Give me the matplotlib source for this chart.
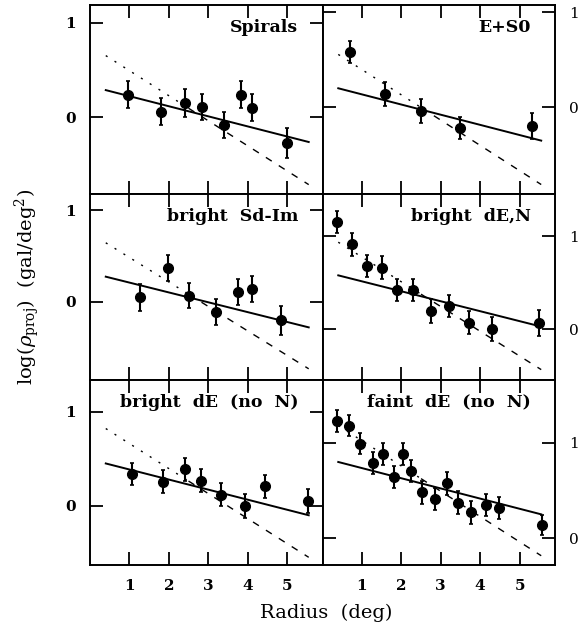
import numpy as np
import matplotlib
matplotlib.use("Agg")
import matplotlib.pyplot as plt

plt.rcParams['font.family'] = 'DejaVu Serif'
plt.rcParams['mathtext.fontset'] = 'dejavuserif'

# panel names, left column top->bottom then right column top->bottom
names = ['Spirals', 'bright  Sd-Im', 'bright  dE  (no  N)',
         'E+S0', 'bright  dE,N', 'faint  dE  (no  N)']

# radius (deg), log density, error
r_spir = [0.96, 1.80, 2.40, 2.84, 3.39, 3.82, 4.12, 4.99]
y_spir = [0.24, 0.06, 0.15, 0.11, -0.085, 0.24, 0.10, -0.27]
e_spir = [0.14, 0.145, 0.145, 0.14, 0.14, 0.145, 0.145, 0.16]

r_sdim = [1.28, 1.99, 2.51, 3.19, 3.76, 4.12, 4.85]
y_sdim = [0.05, 0.37, 0.07, -0.105, 0.11, 0.14, -0.20]
e_sdim = [0.145, 0.14, 0.14, 0.14, 0.14, 0.14, 0.16]

r_bde = [1.07, 1.86, 2.40, 2.81, 3.32, 3.93, 4.43, 5.52]
y_bde = [0.34, 0.26, 0.39, 0.27, 0.12, 0.0, 0.21, 0.05]
e_bde = [0.12, 0.125, 0.125, 0.125, 0.12, 0.125, 0.12, 0.13]

r_es0 = [0.70, 1.58, 2.50, 3.50, 5.32]
y_es0 = [0.58, 0.14, -0.04, -0.22, -0.20]
e_es0 = [0.12, 0.125, 0.125, 0.12, 0.14]

r_den = [0.38, 0.76, 1.13, 1.51, 1.90, 2.30, 2.75, 3.21, 3.71, 4.29, 5.49]
y_den = [1.15, 0.91, 0.68, 0.66, 0.42, 0.42, 0.19, 0.25, 0.07, 0.0, 0.06]
e_den = [0.12, 0.12, 0.12, 0.12, 0.12, 0.12, 0.13, 0.12, 0.12, 0.125, 0.14]

r_fde = [0.38, 0.68, 0.94, 1.27, 1.53, 1.81, 2.04, 2.24, 2.52, 2.86, 3.15,
         3.44, 3.78, 4.16, 4.49, 5.56]
y_fde = [1.23, 1.18, 0.99, 0.79, 0.88, 0.645, 0.88, 0.705, 0.48, 0.41, 0.575,
         0.37, 0.27, 0.35, 0.32, 0.14]
e_fde = [0.115, 0.11, 0.11, 0.115, 0.115, 0.115, 0.115, 0.12, 0.12, 0.12, 0.12,
         0.12, 0.12, 0.115, 0.115, 0.105]

rad = [r_spir, r_sdim, r_bde, r_es0, r_den, r_fde]
dens = [y_spir, y_sdim, y_bde, y_es0, y_den, y_fde]
errs = [e_spir, e_sdim, e_bde, e_es0, e_den, e_fde]

# model lines: log rho = a + b*r
slope_solid = -0.107
slope_dash = -0.266
icpt_solid = [0.33, 0.318, 0.495, 0.24, 0.62, 0.843]
icpt_dash = [0.76, 0.75, 0.93, 0.66, 1.04, 1.29]
r_fit = [0.4, 5.55]
r_break = 2.5  # dotted-looking part of the dashed line ends here

ylims = [(-0.816, 1.191), (-0.848, 1.174), (-0.628, 1.340),
         (-0.916, 1.074), (-0.548, 1.452), (-0.284, 1.663)]

fig = plt.figure(figsize=(5.81, 6.28), dpi=100)
gs = fig.add_gridspec(3, 2, left=90/581, right=555/581, top=1-5/628,
                      bottom=1-565/628, hspace=0, wspace=0,
                      height_ratios=[189, 186, 185])

for i in range(6):
    col = i // 3
    row = i % 3
    ax = fig.add_subplot(gs[row, col])
    ax.errorbar(rad[i], dens[i], yerr=errs[i], fmt='o', color='k', ms=7,
                elinewidth=1.5, capsize=1.5, capthick=1.2)
    xs = np.array(r_fit)
    ax.plot(xs, icpt_solid[i] + slope_solid*xs, color='k', lw=1.4)
    x1 = np.array([r_fit[0], r_break])
    x2 = np.array([r_break, r_fit[1]])
    ax.plot(x1, icpt_dash[i] + slope_dash*x1, color='k', lw=1.0,
            dashes=(1.5, 6))
    ax.plot(x2, icpt_dash[i] + slope_dash*x2, color='k', lw=1.0,
            dashes=(5, 6))
    ax.set_xlim(0, 5.9)
    ax.set_ylim(*ylims[i])
    ax.set_xticks([1, 2, 3, 4, 5])
    ax.set_yticks([0, 1])
    ax.set_yticklabels(['0', '1'])
    ax.tick_params(direction='in', length=9.5, width=1.3, top=True,
                   right=True, labelsize=11, pad=10)
    for lab in ax.get_xticklabels() + ax.get_yticklabels():
        lab.set_fontweight('bold')
    if row != 2:
        ax.tick_params(labelbottom=False)
    if col == 1:
        ax.tick_params(labelleft=False, labelright=True)
    for sp in ax.spines.values():
        sp.set_linewidth(1.4)
    ax.text(0.895, 0.855, names[i], transform=ax.transAxes, ha='right',
            va='baseline', fontsize=12.5, fontweight='bold')

fig.text(326/581, 1-613/628, 'Radius  (deg)', ha='center', va='center',
         fontsize=14)
fig.text(27/581, 1-287/628,
         r'$\log(\rho_{\rm proj})$  (gal/deg$^2$)', ha='center', va='center',
         rotation=90, fontsize=14)

fig.savefig('out.png', dpi=100)
